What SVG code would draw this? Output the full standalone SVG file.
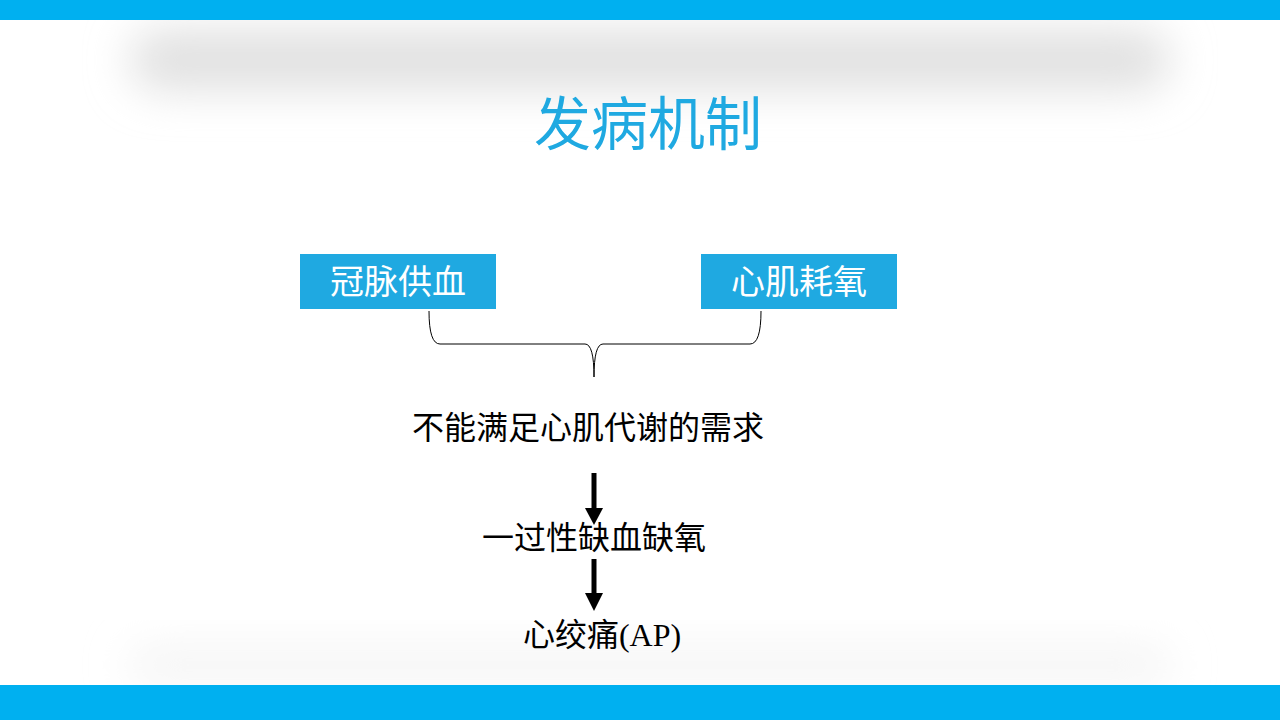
<svg xmlns="http://www.w3.org/2000/svg" width="1280" height="720" viewBox="0 0 1280 720">
<defs>
<filter id="blur" x="-20%" y="-100%" width="140%" height="300%"><feGaussianBlur stdDeviation="22"/></filter>
<marker id="ah" markerWidth="6" markerHeight="6" refX="3" refY="5" orient="auto" markerUnits="userSpaceOnUse" viewBox="0 0 6 6"><path d="M0,0 L6,0 L3,6 Z" fill="#000"/></marker>
<style>
.box{fill:#1fa9e1}
.bt{font-family:"Noto Sans CJK SC",sans-serif;font-size:34px;fill:#fff;text-anchor:middle}
.t{font-family:"Liberation Serif","Noto Sans CJK SC",serif;font-size:32px;fill:#000;text-anchor:middle}
.arr{stroke:#000;stroke-width:5;fill:none}
</style>
</defs>
<rect width="1280" height="720" fill="#fff"/>
<rect x="130" y="30" width="1040" height="60" rx="30" fill="#e0e0e0" filter="url(#blur)"/>
<rect x="130" y="650" width="1040" height="30" rx="15" fill="#f2f2f2" filter="url(#blur)"/>
<rect x="0" y="20" width="1280" height="665" fill="#fff" opacity="0"/>
<rect x="0" y="0" width="1280" height="20" fill="#00b0f0"/>
<rect x="0" y="685" width="1280" height="35" fill="#00b0f0"/>
<text x="648" y="145" font-family="Noto Sans CJK SC,sans-serif" font-size="58" fill="#1fa9e1" text-anchor="middle" textLength="228" lengthAdjust="spacingAndGlyphs">发病机制</text>
<g id="n1"><rect class="box" x="300" y="254" width="196" height="55"/><text class="bt" x="398" y="294">冠脉供血</text></g>
<g id="n2"><rect class="box" x="701" y="254" width="196" height="55"/><text class="bt" x="799" y="294">心肌耗氧</text></g>
<g id="n3"><text class="t" x="588" y="439">不能满足心肌代谢的需求</text></g>
<g id="n4"><text class="t" x="594" y="549">一过性缺血缺氧</text></g>
<g id="n5"><text class="t" x="602" y="646">心绞痛(AP)</text></g>
<g id="connectors">
<path d="M429,311 Q429,344 440,344 L585,344 Q594,344 594,377 Q594,344 603,344 L750,344 Q761,344 761,311" fill="none" stroke="#000" stroke-width="1"/>
<line class="arr" x1="594" y1="473" x2="594" y2="510"/>
<path d="M585,508 L603,508 L594,525 Z" fill="#000"/>
<line class="arr" x1="594" y1="559" x2="594" y2="595"/>
<path d="M585,593 L603,593 L594,611 Z" fill="#000"/>
</g>
</svg>
